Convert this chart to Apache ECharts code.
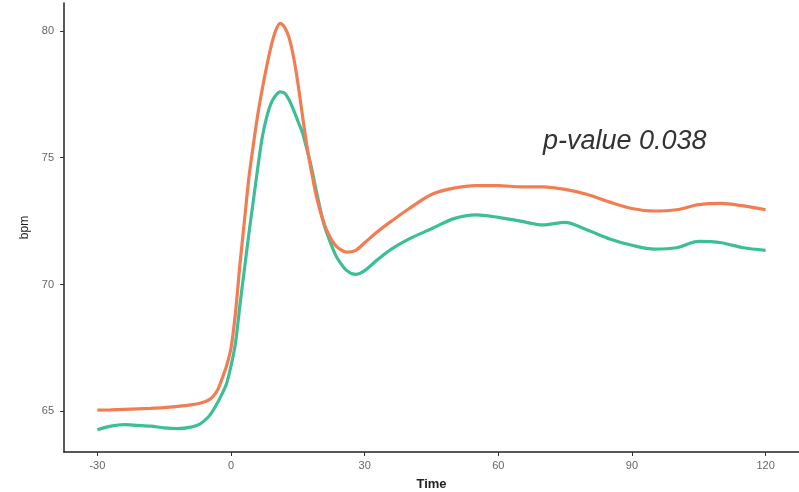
<!DOCTYPE html>
<html><head><meta charset="utf-8">
<script src="https://cdn.jsdelivr.net/npm/echarts@6/dist/echarts.min.js"></script>
<style>html,body{margin:0;padding:0;background:#fff}#c{width:799px;height:492px}</style>
</head><body><div id="c"></div>
<script>
var times = [-30,-27,-24,-21,-18,-15,-12,-9,-7,-5,-4,-3,-2,-1,0,1,2,3,4,5,6,7,8,9,10,11,12,13,14,15,16,17,18,19,20,21,22,23,24,26,28,30,33,36,40,45,50,55,60,65,70,75,80,85,90,95,100,105,110,115,120];
var orangeVals = [65.05,65.06,65.08,65.10,65.12,65.15,65.20,65.26,65.32,65.45,65.60,65.85,66.30,66.80,67.50,68.90,70.80,72.50,74.20,75.50,76.70,77.70,78.60,79.40,80.00,80.30,80.15,79.75,79.00,77.95,76.70,75.50,74.50,73.60,72.90,72.35,71.95,71.65,71.45,71.28,71.35,71.65,72.10,72.50,73.00,73.55,73.80,73.90,73.90,73.85,73.85,73.75,73.55,73.25,73.00,72.90,72.95,73.15,73.20,73.10,72.95];
var tealVals = [64.28,64.42,64.48,64.45,64.42,64.35,64.32,64.38,64.50,64.80,65.05,65.35,65.70,66.10,66.80,67.70,69.20,70.60,72.00,73.30,74.60,75.80,76.60,77.15,77.45,77.60,77.55,77.30,76.90,76.45,76.00,75.35,74.65,73.80,73.00,72.30,71.80,71.35,71.00,70.55,70.40,70.55,71.00,71.40,71.80,72.20,72.60,72.75,72.65,72.50,72.35,72.45,72.15,71.80,71.55,71.40,71.45,71.70,71.65,71.45,71.35];
var xTicks = [-30,0,30,60,90,120];
var yTicks = [65,70,75,80];
var annotation = 'p-value 0.038';

function pairs(xs, ys){ return xs.map(function(x,i){ return [x, ys[i]]; }); }

var chart = echarts.init(document.getElementById('c'), null, {renderer:'canvas'});
chart.setOption({
  animation:false,
  backgroundColor:'#ffffff',
  grid:{left:64, right:0, top:3, bottom:40, containLabel:false, outerBoundsMode:'none'},
  xAxis:{
    type:'value', min:-37.5, max:127.5,
    name:'Time', nameLocation:'middle', nameGap:26,
    nameTextStyle:{fontFamily:'Liberation Sans, Arial', fontSize:13, fontWeight:'bold', color:'#222'},
    axisLine:{show:true, onZero:false, lineStyle:{color:'#222', width:1.5}},
    axisTick:{show:true, length:4, customValues:xTicks, lineStyle:{color:'#333'}},
    axisLabel:{customValues:xTicks, fontFamily:'Liberation Sans, Arial', fontSize:11, color:'#666', margin:8},
    splitLine:{show:false}
  },
  yAxis:{
    type:'value', min:63.4, max:81.1,
    name:'bpm', nameLocation:'middle', nameGap:32, nameRotate:90,
    nameTextStyle:{fontFamily:'Liberation Sans, Arial', fontSize:12, color:'#222'},
    axisLine:{show:true, onZero:false, lineStyle:{color:'#222', width:1.5}},
    axisTick:{show:true, length:4, customValues:yTicks, lineStyle:{color:'#333'}},
    axisLabel:{customValues:yTicks, fontFamily:'Liberation Sans, Arial', fontSize:11, color:'#666', margin:10},
    splitLine:{show:false}
  },
  series:[
    {type:'line', data:pairs(times, orangeVals), smooth:0.3, showSymbol:false,
     lineStyle:{color:'#F27D52', width:3.2}, z:3},
    {type:'line', data:pairs(times, tealVals), smooth:0.3, showSymbol:false,
     lineStyle:{color:'#3CBE96', width:3.2}, z:2}
  ],
  graphic:[
    {type:'text', left:543, top:128,
     style:{text:annotation, font:'italic 27px Liberation Sans, Arial', fill:'#333'}}
  ]
});
</script></body></html>
